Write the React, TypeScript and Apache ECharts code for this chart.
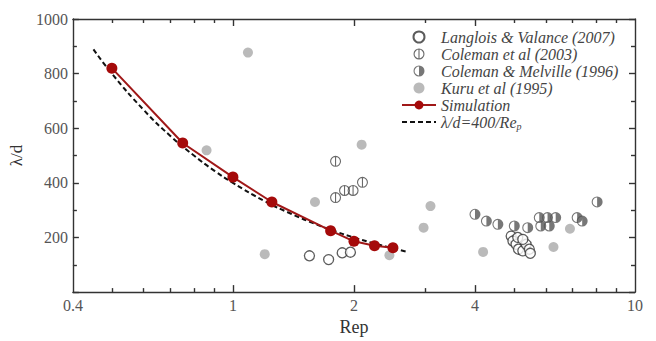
import React, { useEffect, useRef } from 'react';
import * as echarts from 'echarts';

// ---- data ----
const xLabelValues = [0.4, 1, 2, 4, 10];
const xMajorTicks = [1, 2, 4];
const xMinorTicks = [0.5, 0.6, 0.7, 0.8, 0.9, 3, 5, 6, 7, 8, 9];

const langloisRe = [1.55, 1.73, 1.87, 1.96, 4.92, 4.97, 5.06, 5.13, 5.26, 5.36, 5.46, 5.49, 5.11, 5.26];
const langloisVal = [133, 119, 144, 146, 205, 187, 175, 157, 151, 175, 157, 142, 200, 193];

const coleman03Re = [1.8, 1.8, 1.895, 1.99, 2.1];
const coleman03Val = [479, 346, 372, 372, 402];

const colemanMelRe = [4.0, 4.27, 4.56, 5.01, 5.41, 5.78, 6.06, 6.35, 5.83, 6.12, 7.18, 7.39, 8.05];
const colemanMelVal = [285, 260, 248, 242, 236, 273, 273, 273, 242, 242, 273, 260, 330];

const kuruRe = [0.86, 1.09, 1.2, 1.6, 2.09, 2.45, 2.98, 3.1, 4.19, 6.27, 6.89];
const kuruVal = [519, 877, 139, 330, 540, 135, 236, 315, 147, 165, 232];

const simRe = [0.5, 0.75, 1, 1.25, 1.75, 2, 2.25, 2.5];
const simVal = [820, 546, 421, 330, 225, 186, 170, 162];

const fitRe = [0.45, 0.5, 0.6, 0.7, 0.8, 0.9, 1, 1.2, 1.4, 1.6, 1.8, 2, 2.2, 2.4, 2.7];
const fitVal = [889, 800, 667, 571, 500, 444, 400, 333, 286, 250, 222, 200, 182, 167, 148];

const names = [
  'Langlois & Valance (2007)',
  'Coleman et al (2003)',
  'Coleman & Melville (1996)',
  'Kuru et al (1995)',
  'Simulation',
  'λ/d=400/Rep',
];

const pairs = (xs: number[], ys: number[]) => xs.map((x, i) => [x, ys[i]]);

// symbol paths
const RING =
  'M0,5 A5,5 0 1,1 10,5 A5,5 0 1,1 0,5 Z M1,5 A4,4 0 1,0 9,5 A4,4 0 1,0 1,5 Z';
const RING_BAR = RING + ' M4.5,1 L5.5,1 L5.5,9 L4.5,9 Z';
const RING_HALF = RING + ' M5,1 A4,4 0 0,1 5,9 Z';

const SERIF = 'Liberation Serif, Times New Roman, serif';
const AX = '#333';

export default function App() {
  const ref = useRef<HTMLDivElement>(null);
  useEffect(() => {
    if (!ref.current) return;
    const chart = echarts.init(ref.current, undefined, { renderer: 'svg' });
    const fmt = (v: number) => String(Number(Number(v).toPrecision(3)));
    const lineStyle = { color: AX, width: 1.4 };
    const logBase = { type: 'log', logBase: 10, min: 0.4, max: 10, splitLine: { show: false }, minorTick: { show: false } };
    const legendText = { fontFamily: SERIF, fontStyle: 'italic', fontSize: 16, color: '#444' };
    const option: any = {
      animation: false,
      backgroundColor: '#fff',
      textStyle: { fontFamily: SERIF },
      grid: { left: 67, right: 21, top: 19, bottom: 48 },
      xAxis: [
        {
          ...logBase,
          position: 'bottom',
          name: 'Rep',
          nameLocation: 'middle',
          nameGap: 24,
          nameTextStyle: { fontFamily: SERIF, fontSize: 18, color: '#333' },
          axisLine: { lineStyle },
          axisTick: { inside: true, length: 7, customValues: xMajorTicks, lineStyle },
          axisLabel: { customValues: xLabelValues, formatter: fmt, margin: 5, fontFamily: SERIF, fontSize: 16, color: '#555' },
        },
        {
          ...logBase,
          position: 'bottom',
          axisLine: { show: false },
          axisTick: { inside: true, length: 4, customValues: xMinorTicks, lineStyle },
          axisLabel: { show: false },
        },
        {
          ...logBase,
          position: 'top',
          axisLine: { lineStyle },
          axisTick: { inside: true, length: 7, customValues: xMajorTicks, lineStyle },
          axisLabel: { show: false },
        },
        {
          ...logBase,
          position: 'top',
          axisLine: { show: false },
          axisTick: { inside: true, length: 4, customValues: xMinorTicks, lineStyle },
          axisLabel: { show: false },
        },
      ],
      yAxis: [
        {
          type: 'value',
          min: 0,
          max: 1000,
          interval: 200,
          position: 'left',
          name: 'λ/d',
          nameLocation: 'middle',
          nameGap: 35,
          nameTextStyle: { fontFamily: SERIF, fontSize: 17, color: '#333' },
          axisLine: { show: true, lineStyle },
          axisTick: { show: true, inside: true, length: 6, lineStyle },
          minorTick: { show: true, splitNumber: 2, length: 4, lineStyle },
          axisLabel: {
            formatter: (v: number) => (v === 0 ? '' : String(v)),
            margin: 5,
            fontFamily: SERIF,
            fontSize: 16,
            color: '#555',
          },
          splitLine: { show: false },
          minorSplitLine: { show: false },
        },
        {
          type: 'value',
          min: 0,
          max: 1000,
          interval: 200,
          position: 'right',
          axisLine: { show: true, lineStyle },
          axisTick: { show: true, inside: true, length: 6, lineStyle },
          minorTick: { show: true, splitNumber: 2, length: 4, lineStyle },
          axisLabel: { show: false },
          splitLine: { show: false },
          minorSplitLine: { show: false },
        },
      ],
      legend: {
        orient: 'vertical',
        left: 396,
        top: 24,
        itemWidth: 34,
        itemHeight: 11,
        itemGap: 1,
        data: [
          names[0],
          names[1],
          names[2],
          names[3],
          names[4],
          { name: names[5], itemStyle: { opacity: 0 } },
        ],
        formatter: (n: string) => (n === names[5] ? '{a|λ/d=400/Re}{s|p}' : n),
        textStyle: {
          ...legendText,
          rich: {
            a: { ...legendText },
            s: { ...legendText, fontSize: 10, padding: [8, 0, 0, 0] },
          },
        },
      },
      series: [
        {
          name: names[0],
          type: 'scatter',
          xAxisIndex: 0,
          yAxisIndex: 0,
          symbol: 'circle',
          symbolSize: 10,
          itemStyle: { color: '#fff', borderColor: '#333', borderWidth: 1.3 },
          data: pairs(langloisRe, langloisVal),
        },
        {
          name: names[1],
          type: 'scatter',
          xAxisIndex: 0,
          yAxisIndex: 0,
          symbol: 'path://' + RING_BAR,
          symbolKeepAspect: true,
          symbolSize: 11,
          itemStyle: { color: '#444' },
          data: pairs(coleman03Re, coleman03Val),
        },
        {
          name: names[2],
          type: 'scatter',
          xAxisIndex: 0,
          yAxisIndex: 0,
          symbol: 'path://' + RING_HALF,
          symbolKeepAspect: true,
          symbolSize: 11,
          itemStyle: { color: '#555' },
          data: pairs(colemanMelRe, colemanMelVal),
        },
        {
          name: names[3],
          type: 'scatter',
          xAxisIndex: 0,
          yAxisIndex: 0,
          symbol: 'circle',
          symbolSize: 10,
          itemStyle: { color: '#a9a9a9' },
          data: pairs(kuruRe, kuruVal),
        },
        {
          name: names[4],
          type: 'line',
          xAxisIndex: 0,
          yAxisIndex: 0,
          symbol: 'circle',
          symbolSize: 11,
          lineStyle: { color: '#a01818', width: 2 },
          itemStyle: { color: '#a50a0a' },
          data: pairs(simRe, simVal),
          z: 4,
        },
        {
          name: names[5],
          type: 'line',
          xAxisIndex: 0,
          yAxisIndex: 0,
          symbol: 'none',
          smooth: true,
          lineStyle: { color: '#111', width: 2, type: [5, 3] },
          itemStyle: { color: '#111' },
          data: pairs(fitRe, fitVal),
          z: 3,
        },
      ],
    };
    chart.setOption(option);
    return () => chart.dispose();
  }, []);
  return (
    <div
      ref={ref}
      style={{ position: 'fixed', left: 0, top: 0, width: 656, height: 341, background: '#fff' }}
    />
  );
}
